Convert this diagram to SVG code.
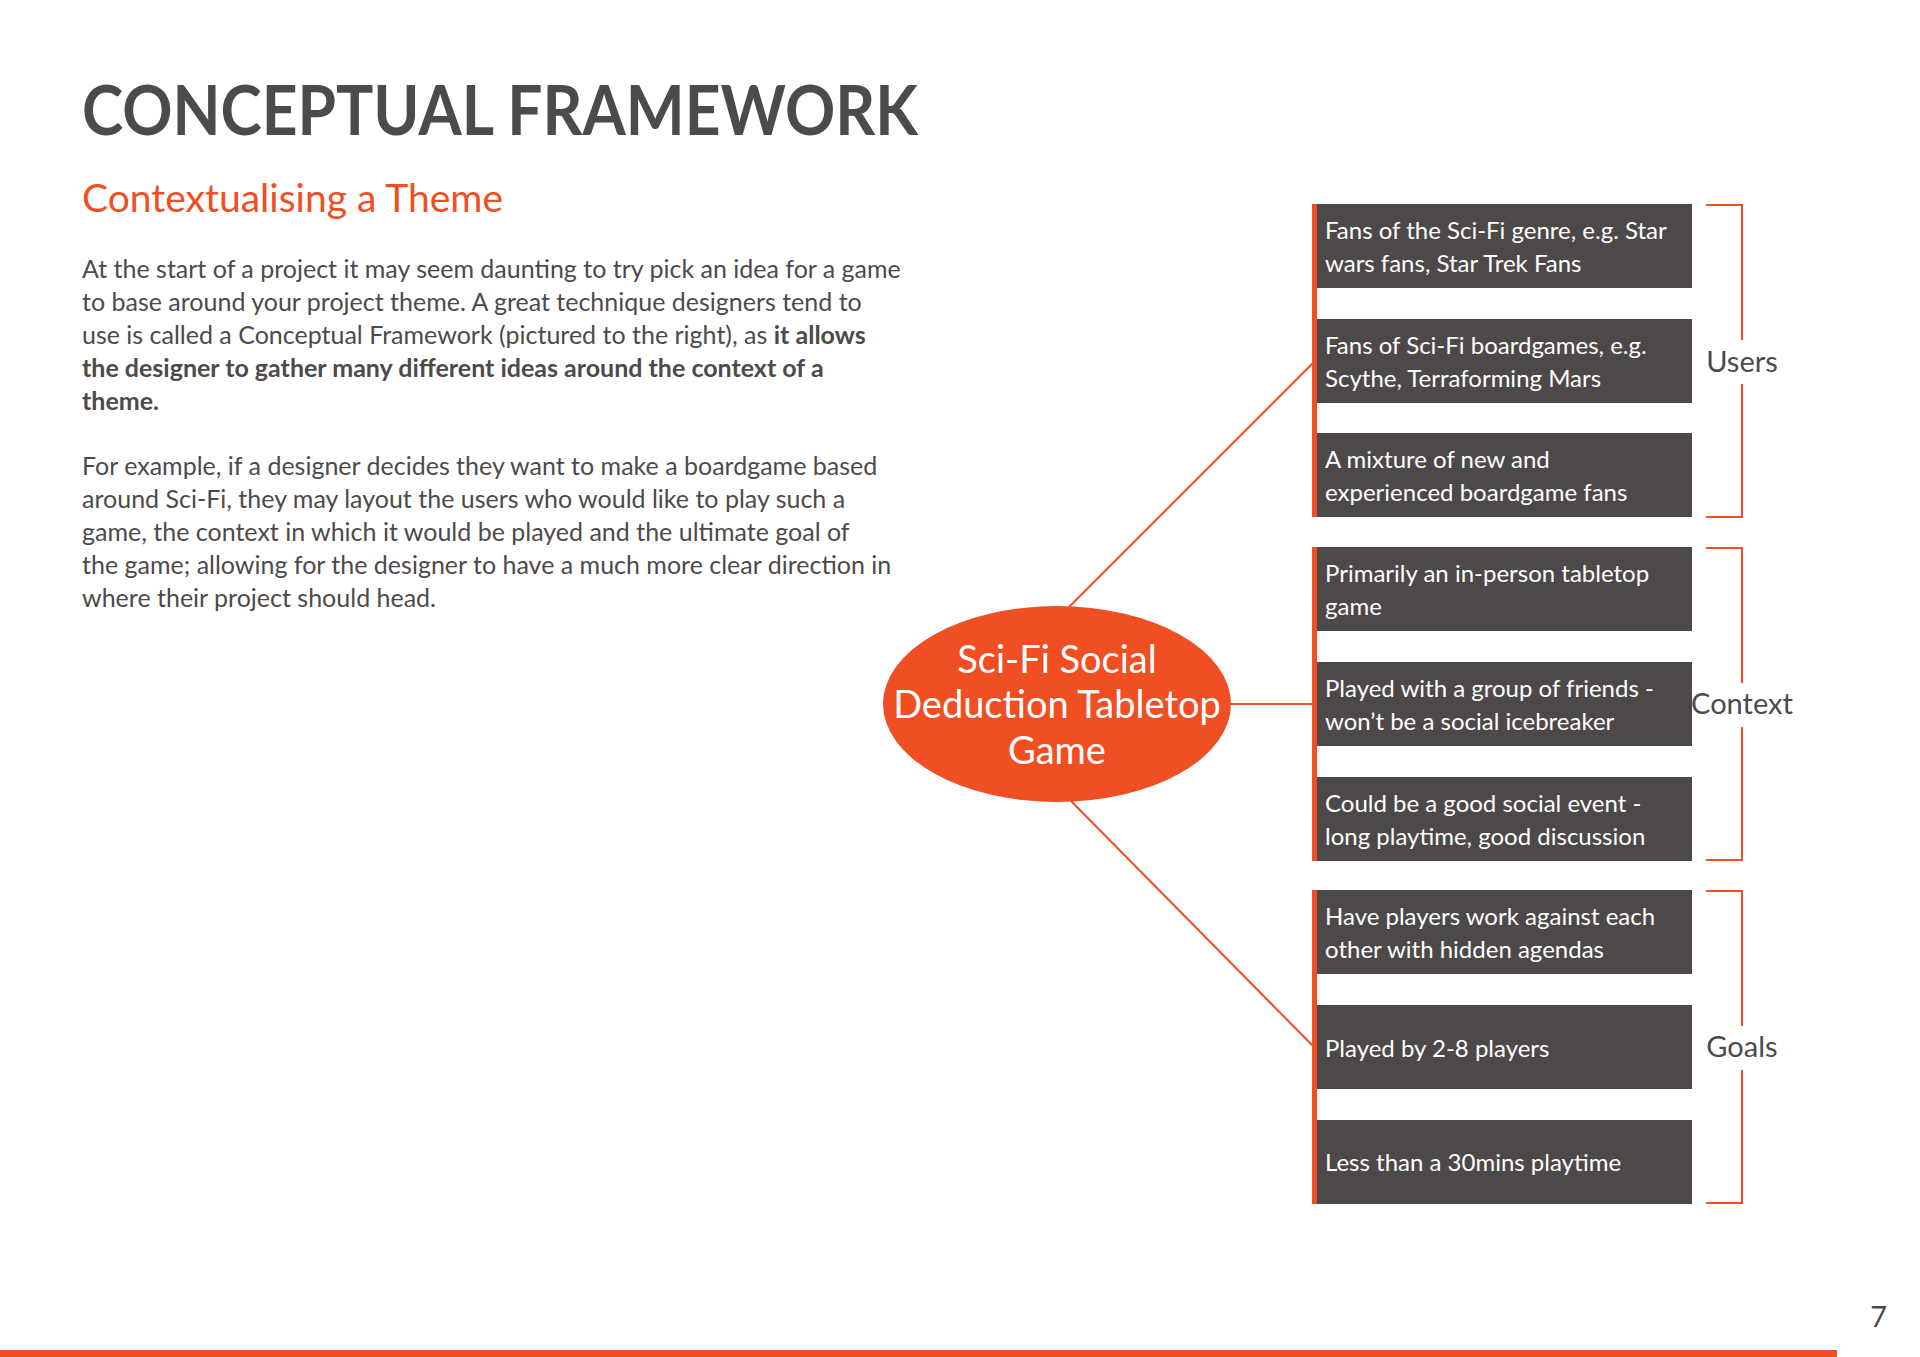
<svg xmlns="http://www.w3.org/2000/svg" width="1920" height="1357" viewBox="0 0 1920 1357">
<style>
.t{font-family:Lato,"Open Sans",sans-serif;}
.bx{fill:#4d4948;}
.bt{font-family:Lato,"Open Sans",sans-serif;font-size:24px;fill:#ffffff;}
.body{font-family:Lato,"Open Sans",sans-serif;font-size:25px;fill:#4d4a4a;}
.lbl{font-family:Lato,"Open Sans",sans-serif;font-size:29px;fill:#4d4a4a;text-anchor:middle;}
.ln{stroke:#f04e23;stroke-width:2;fill:none;}
</style>
<rect width="1920" height="1357" fill="#ffffff"/>
<g id="header">
<text class="t" x="82" y="135" font-size="68" font-weight="bold" fill="#4d4a4a" textLength="836" lengthAdjust="spacingAndGlyphs">CONCEPTUAL FRAMEWORK</text>
<text class="t" x="82" y="212" font-size="39" fill="#f04e23" textLength="421" lengthAdjust="spacingAndGlyphs">Contextualising a Theme</text>
</g>
<g id="body">
<text class="body" x="82" y="278">At the start of a project it may seem daunting to try pick an idea for a game</text>
<text class="body" x="82" y="311">to base around your project theme. A great technique designers tend to</text>
<text class="body" x="82" y="344">use is called a Conceptual Framework (pictured to the right), as <tspan font-weight="bold">it allows</tspan></text>
<text class="body" x="82" y="377" font-weight="bold">the designer to gather many different ideas around the context of a</text>
<text class="body" x="82" y="410" font-weight="bold">theme.</text>
<text class="body" x="82" y="475">For example, if a designer decides they want to make a boardgame based</text>
<text class="body" x="82" y="508">around Sci-Fi, they may layout the users who would like to play such a</text>
<text class="body" x="82" y="541">game, the context in which it would be played and the ultimate goal of</text>
<text class="body" x="82" y="574">the game; allowing for the designer to have a much more clear direction in</text>
<text class="body" x="82" y="607">where their project should head.</text>
</g>
<g id="connectors">
<line class="ln" x1="1069" y1="607" x2="1314" y2="362"/>
<line class="ln" x1="1231" y1="704" x2="1314" y2="704"/>
<line class="ln" x1="1071" y1="801" x2="1314" y2="1047"/>
<rect x="1312" y="204" width="5" height="313" fill="#f04e23"/>
<rect x="1312" y="547" width="5" height="314" fill="#f04e23"/>
<rect x="1312" y="890" width="5" height="314" fill="#f04e23"/>
<path class="ln" d="M1706 205 H1742 V340 M1742 384 V517 H1706"/>
<path class="ln" d="M1706 548 H1742 V683 M1742 727 V860 H1706"/>
<path class="ln" d="M1706 891 H1742 V1026 M1742 1070 V1203 H1706"/>
</g>
<g id="center">
<ellipse cx="1057" cy="704" rx="174" ry="98" fill="#f04e23"/>
<text class="t" font-size="38" fill="#ffffff" text-anchor="middle"><tspan x="1057" y="673">Sci-Fi Social</tspan><tspan x="1057" y="718">Deduction Tabletop</tspan><tspan x="1057" y="764">Game</tspan></text>
</g>
<g id="users">
<text class="lbl" x="1742" y="372">Users</text>
<rect class="bx" x="1317" y="204" width="375" height="84"/>
<text class="bt"><tspan x="1325" y="239">Fans of the Sci-Fi genre, e.g. Star</tspan><tspan x="1325" y="272">wars fans, Star Trek Fans</tspan></text>
<rect class="bx" x="1317" y="319" width="375" height="84"/>
<text class="bt"><tspan x="1325" y="354">Fans of Sci-Fi boardgames, e.g.</tspan><tspan x="1325" y="387">Scythe, Terraforming Mars</tspan></text>
<rect class="bx" x="1317" y="433" width="375" height="84"/>
<text class="bt"><tspan x="1325" y="468">A mixture of new and</tspan><tspan x="1325" y="501">experienced boardgame fans</tspan></text>
</g>
<g id="context">
<text class="lbl" x="1742" y="714">Context</text>
<rect class="bx" x="1317" y="547" width="375" height="84"/>
<text class="bt"><tspan x="1325" y="582">Primarily an in-person tabletop</tspan><tspan x="1325" y="615">game</tspan></text>
<rect class="bx" x="1317" y="662" width="375" height="84"/>
<text class="bt"><tspan x="1325" y="697">Played with a group of friends -</tspan><tspan x="1325" y="730">won’t be a social icebreaker</tspan></text>
<rect class="bx" x="1317" y="777" width="375" height="84"/>
<text class="bt"><tspan x="1325" y="812">Could be a good social event -</tspan><tspan x="1325" y="845">long playtime, good discussion</tspan></text>
</g>
<g id="goals">
<text class="lbl" x="1742" y="1057">Goals</text>
<rect class="bx" x="1317" y="890" width="375" height="84"/>
<text class="bt"><tspan x="1325" y="925">Have players work against each</tspan><tspan x="1325" y="958">other with hidden agendas</tspan></text>
<rect class="bx" x="1317" y="1005" width="375" height="84"/>
<text class="bt" x="1325" y="1057">Played by 2-8 players</text>
<rect class="bx" x="1317" y="1120" width="375" height="84"/>
<text class="bt" x="1325" y="1171">Less than a 30mins playtime</text>
</g>
<g id="footer">
<text class="t" x="1887" y="1327" font-size="29" fill="#4d4a4a" text-anchor="end">7</text>
<rect x="0" y="1350" width="1837" height="7" fill="#f04e23"/>
</g>
</svg>
